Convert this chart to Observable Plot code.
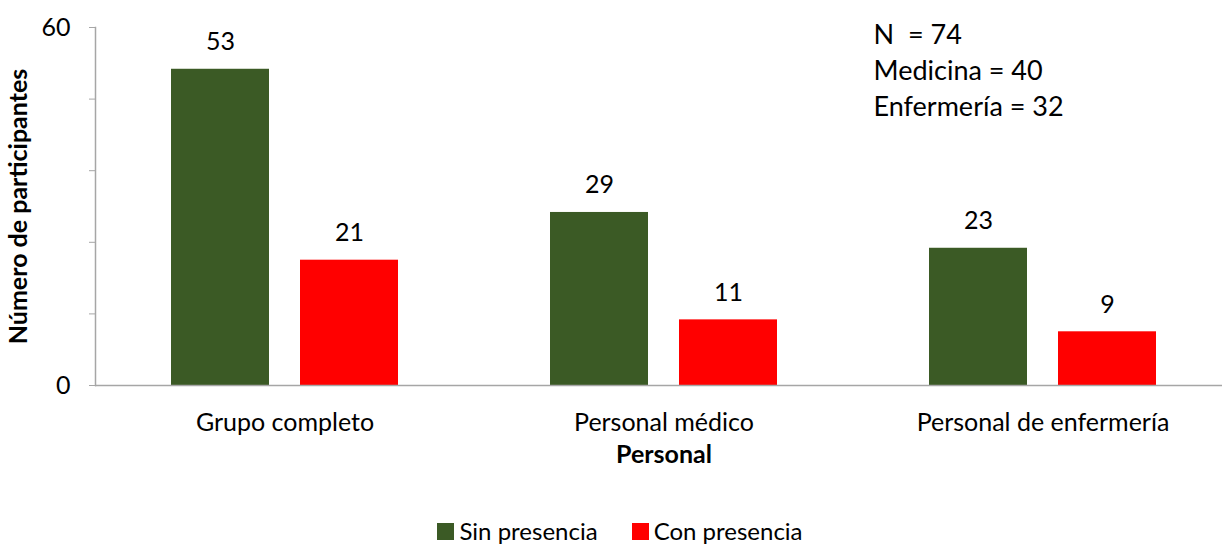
<!DOCTYPE html>
<html>
<head>
<meta charset="utf-8">
<script src="https://cdn.jsdelivr.net/npm/d3@7"></script>
<script src="https://cdn.jsdelivr.net/npm/@observablehq/plot@0.6"></script>
<style>
  html, body { margin: 0; padding: 0; background: #fff; overflow: hidden; width: 1222px; height: 544px; }
  #chart svg { display: block; max-width: none !important; }
  .legend { display: flex; justify-content: center; align-items: center; padding-left: 18px; padding-top: 44px;
            font-family: Lato, "Open Sans", sans-serif; font-size: 24px; color: #000; line-height: 24px; }
  .legend .item { display: flex; align-items: center; margin: 0 17px; }
  .legend .sw { width: 17px; height: 17px; margin-right: 5px; display: inline-block; }
</style>
</head>
<body>
<div id="chart"></div>
<script>
const groups = ["Grupo completo", "Personal médico", "Personal de enfermería"];
const series = ["Sin presencia", "Con presencia"];
const sinPresencia = [53, 29, 23];
const conPresencia = [21, 11, 9];
const colors = ["#3b5a25", "#ff0000"];
const yTicks = [0, 12, 24, 36, 48, 60];
const yTickLabels = ["0", "", "", "", "", "60"];
const notes = ["N  = 74", "Medicina = 40", "Enfermería = 32"];
const xTitle = "Personal";
const yTitle = "Número de participantes";

const rows = [];
groups.forEach((g, i) => {
  rows.push({group: g, series: series[0], value: sinPresencia[i]});
  rows.push({group: g, series: series[1], value: conPresencia[i]});
});

const axisColor = "#a6a6a6";
const font = "Lato, 'Open Sans', sans-serif";

const chart = Plot.plot({
  width: 1232,
  height: 475,
  marginLeft: 95,
  marginRight: 0,
  marginTop: 27,
  marginBottom: 90,
  style: {fontFamily: font, fontSize: "25px", color: "#000", background: "white", overflow: "visible", maxWidth: "none"},
  fx: {domain: groups, padding: 0},
  x: {domain: series, paddingInner: 0.24, paddingOuter: 0.58, axis: null},
  y: {domain: [0, 60]},
  color: {domain: series, range: colors},
  marks: [
    Plot.barY(rows, {fx: "group", x: "series", y: "value", fill: "series"}),
    Plot.text(rows, {fx: "group", x: "series", y: "value", text: d => String(d.value), dy: -27, fontSize: 25, fill: "#000"}),
    Plot.ruleY([0], {stroke: axisColor, strokeWidth: 1.5}),
    Plot.axisY({
      ticks: yTicks,
      tickFormat: d => yTickLabels[yTicks.indexOf(d)],
      tickSize: 6, tickPadding: 19, stroke: axisColor, fill: "#000",
      fontSize: 25, label: null
    }),
    Plot.frame({anchor: "left", stroke: axisColor, strokeWidth: 1.5, facetAnchor: "left"}),
    Plot.axisFx({anchor: "bottom", tickSize: 0, tickPadding: 28, fontSize: 25, label: null, fill: "#000"}),
    Plot.text([yTitle], {frameAnchor: "left", rotate: -90, dx: -77, textAnchor: "middle", lineAnchor: "middle", fontWeight: "bold", fontSize: 25, facetAnchor: "left", fill: "#000"}),
    Plot.text([{group: groups[1], t: xTitle}], {fx: "group", text: "t", frameAnchor: "bottom", lineAnchor: "middle", dy: 69, fontWeight: "bold", fontSize: 25, fill: "#000"}),
    Plot.text([{group: groups[2], t: notes.join("\n")}], {fx: "group", text: "t", frameAnchor: "top-left", textAnchor: "start", lineAnchor: "top", dx: 20, dy: -9, fontSize: 27, lineHeight: 1.33, fill: "#000"})
  ]
});
document.getElementById("chart").appendChild(chart);

const legend = document.createElement("div");
legend.className = "legend";
series.forEach((s, i) => {
  const item = document.createElement("span");
  item.className = "item";
  const sw = document.createElement("span");
  sw.className = "sw";
  sw.style.background = colors[i];
  item.appendChild(sw);
  item.appendChild(document.createTextNode(s));
  legend.appendChild(item);
});
document.body.appendChild(legend);
</script>
</body>
</html>
